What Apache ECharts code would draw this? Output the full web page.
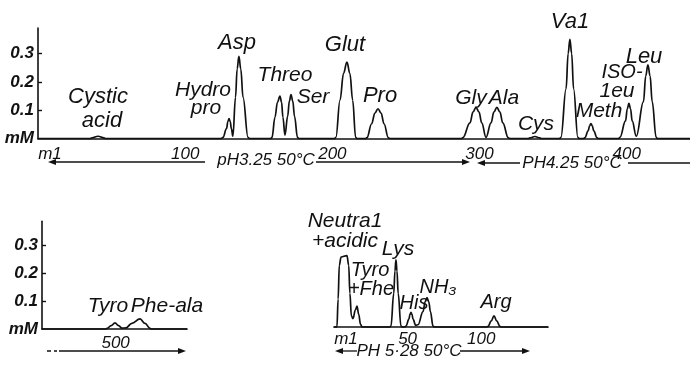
<!DOCTYPE html>
<html><head><meta charset="utf-8">
<script src="https://cdn.jsdelivr.net/npm/echarts@6/dist/echarts.min.js"></script>
<style>html,body{margin:0;padding:0;background:#fff}#c{width:690px;height:367px}</style>
</head><body><div id="c"></div>
<script>
// ---- data: effluent volume (ml) vs concentration (mM) ----
// upper run, pH 3.25 then pH 4.25, 50°C
const topTrace = [
  [0,0],[35,0],[36.7,0.002],[40.8,0.008],[44.8,0.002],[46,0],
  // Hydroxyproline
  [124.5,0],[125.7,0.004],[128.1,0.035],[129.0,0.06],[129.8,0.07],[130.6,0.06],[131.4,0.035],[132.4,0.008],
  // Asp
  [134.2,0.145],[135.3,0.245],[136.5,0.29],[137.8,0.245],[139.3,0.145],[142.7,0.004],[143.7,0],
  // Threo
  [158,0],[159.0,0.004],[161.0,0.075],[162.7,0.128],[164.4,0.15],[165.5,0.128],[166.4,0.075],[167.8,0.012],
  // Ser
  [169.6,0.078],[170.8,0.132],[171.9,0.155],[173.1,0.132],[174.3,0.078],[176.3,0.004],[177.3,0],
  // Glut
  [201.4,0],[202.4,0.004],[205.2,0.135],[207.6,0.23],[209.9,0.27],[211.9,0.23],[213.8,0.135],[215.8,0.004],[216.8,0],
  // Pro
  [222.5,0],[223.5,0.003],[226.7,0.052],[228.9,0.09],[231.0,0.105],[233.1,0.09],[235.1,0.052],[238.0,0.003],[239,0],
  // Gly
  [287.7,0],[288.7,0.003],[293.5,0.055],[295.6,0.094],[297.6,0.11],[299.6,0.094],[301.5,0.055],[304.4,0.004],
  // Ala
  [307.8,0.055],[309.8,0.094],[311.8,0.11],[313.8,0.094],[315.8,0.055],[319.5,0.003],[320.5,0],
  // Cys
  [333,0],[334.2,0.002],[337.6,0.007],[341.0,0.002],[342,0],
  // Val
  [354.3,0],[355.3,0.004],[358.8,0.175],[360.2,0.3],[361.4,0.35],[362.6,0.3],[363.9,0.175],[366.8,0.004],[367.8,0],
  // Meth
  [370.6,0],[371.6,0.003],[373.8,0.027],[374.8,0.045],[375.7,0.053],[376.6,0.045],[377.6,0.027],[379.8,0.003],[380.8,0],
  // Isoleu
  [394.4,0],[395.4,0.004],[399.2,0.062],[400.4,0.105],[401.5,0.124],[402.6,0.105],[403.7,0.062],[406.5,0.008],
  // Leu
  [411.4,0.13],[412.9,0.22],[414.4,0.26],[415.9,0.22],[417.3,0.13],[420.0,0.004],[421,0],
  [443,0]
];
// lower-left continuation (Tyro, Phe-ala)
const lowLeftTrace = [
  [450,0],[493,0],[494.2,0.002],[497,0.012],[499.6,0.022],[502,0.012],[504.3,0.003],
  [507,0.004],[511,0.02],[516.6,0.036],[520,0.02],[523.4,0.002],[524.5,0],[548.5,0]
];
// lower-right run, pH 5.28, 50°C (basic amino acids)
const lowRightTrace = [
  [0,0],[2.0,0],[2.8,0.1],[3.6,0.22],[4.8,0.25],[8.8,0.255],[10.0,0.22],[10.8,0.12],
  [11.8,0.04],[12.9,0.03],[14.5,0.06],[15.6,0.075],[16.8,0.045],[18.0,0.01],[19,0],
  [37.7,0],[38.7,0.003],[40.6,0.12],[41.4,0.2],[42.1,0.24],[42.8,0.2],[43.6,0.12],[45.5,0.003],[46.5,0],
  [47.9,0],[48.9,0.003],[50.9,0.028],[51.6,0.045],[52.3,0.052],[53.0,0.045],[53.7,0.028],[55.5,0.006],
  [57.1,0.008],[60.5,0.055],[61.9,0.09],[63.2,0.105],[64.4,0.09],[65.5,0.055],[67.3,0.003],[68.3,0],
  [103.6,0],[104.6,0.002],[106.9,0.022],[108.7,0.04],[110.5,0.022],[112.8,0.002],[113.8,0],[145.4,0]
];
const yTicks = [0.1, 0.2, 0.3];
const yLabelValues = [0, 0.1, 0.2, 0.3];
const topXTicks = [0, 100, 200, 300, 400];
const lowLeftXTicks = [500];
const lowRightXTicks = [0, 50, 100];

// ---- drawing ----
const ink = '#111';
const FF = '"Liberation Sans","DejaVu Sans",sans-serif';
const chart = echarts.init(document.getElementById('c'));

function T(text, x, y, size, weight) {
  return {type:'text', x:x, y:y, silent:true, style:{
    text:text, fill:ink, font:'italic ' + (weight||'normal') + ' ' + size + 'px ' + FF,
    textAlign:'center', textVerticalAlign:'middle', align:'center', verticalAlign:'middle'}};
}
function L(x1, y1, x2, y2, dash) {
  return {type:'line', silent:true, shape:{x1:x1,y1:y1,x2:x2,y2:y2},
    style:{stroke:ink, lineWidth:1.3, lineDash: dash || null}};
}
function headL(x, y) { return {type:'polygon', silent:true, shape:{points:[[x,y],[x+8,y-3],[x+8,y+3]]}, style:{fill:ink}}; }
function headR(x, y) { return {type:'polygon', silent:true, shape:{points:[[x,y],[x-8,y-3],[x-8,y+3]]}, style:{fill:ink}}; }

function yAxisDef(gi, max, show) {
  return {type:'value', gridIndex:gi, min:0, max:max, show:show,
    splitLine:{show:false},
    axisLine:{show:true, lineStyle:{color:ink, width:1.6}},
    axisTick:{show:true, inside:true, length:4, customValues:yTicks, lineStyle:{color:ink, width:1.4}},
    axisLabel:{show:true, customValues:yLabelValues, margin:4, color:ink,
      fontFamily:FF, fontStyle:'italic', fontWeight:'bold', fontSize:17,
      formatter: v => v === 0 ? 'mM' : v.toFixed(1)}};
}
function xAxisDef(gi, min, max, ticks, margin) {
  return {type:'value', gridIndex:gi, min:min, max:max,
    splitLine:{show:false}, axisTick:{show:false},
    axisLine:{show:true, lineStyle:{color:ink, width:1.7}},
    axisLabel:{show:true, customValues:ticks, margin:margin, color:ink,
      fontFamily:FF, fontStyle:'italic', fontSize:17,
      formatter: v => v === 0 ? '{m|m1}' : String(v),
      rich:{m:{padding:[0,0,0,24], fontFamily:FF, fontStyle:'italic', fontSize:17, color:ink}}}};
}
function lineSeries(xi, data) {
  return {type:'line', xAxisIndex:xi, yAxisIndex:xi, data:data, showSymbol:false,
    smooth:0.4, smoothMonotone:'x', clip:false, animation:false,
    lineStyle:{color:ink, width:1.7}};
}

const option = {
  animation:false,
  backgroundColor:'#fff',
  grid:[
    {left:38, top:28, width:652, height:110.5},
    {left:42, top:221.2, width:145, height:107.8},
    {left:334, top:243, width:214, height:84}
  ],
  xAxis:[
    xAxisDef(0, 0, 443, topXTicks, 7),
    xAxisDef(1, 450, 548.5, lowLeftXTicks, 6),
    xAxisDef(2, 0, 145.4, lowRightXTicks, 4)
  ],
  yAxis:[ yAxisDef(0, 0.39, true), yAxisDef(1, 0.385, true), yAxisDef(2, 0.3, false) ],
  series:[ lineSeries(0, topTrace), lineSeries(1, lowLeftTrace), lineSeries(2, lowRightTrace) ],
  graphic:[
    // upper panel peak names
    T('Cystic', 98, 97, 22), T('acid', 102, 121, 22),
    T('Hydro', 203, 90, 21), T('pro', 206, 108, 21),
    T('Asp', 237, 43, 22), T('Threo', 285, 75, 21), T('Ser', 313, 97, 21),
    T('Glut', 345, 45, 22), T('Pro', 380, 96, 22),
    T('Gly', 471, 98, 21), T('Ala', 504, 98, 21), T('Cys', 536, 124, 21),
    T('Va1', 570, 22, 22), T('Meth', 599, 111, 21),
    T('ISO-', 622, 72, 20), T('1eu', 617, 91, 21), T('Leu', 644, 57, 22),
    // upper panel buffer arrows
    headL(48, 162), L(54, 162, 205, 162), T('pH3.25 50°C', 266, 160, 17), L(316, 162, 464, 162), headR(470, 162),
    headL(477, 163), L(483, 163, 520, 163), T('PH4.25 50°C', 572, 163, 17), L(628, 163, 690, 163),
    // lower-left
    T('Tyro', 108, 306, 21), T('Phe-ala', 167, 306, 21),
    L(47, 351, 57, 351, [4, 3]), L(59, 351, 180, 351), headR(186, 351),
    // lower-right
    T('Neutra1', 345, 221, 21), T('+acidic', 345, 241, 21), T('Lys', 398, 249, 21),
    T('Tyro', 370, 270, 20), T('+Fhe', 371, 289, 20), T('His', 414, 303, 20),
    T('NH₃', 438, 287, 20), T('Arg', 496, 302, 20),
    headL(335, 351), L(341, 351, 357, 351), T('PH 5·28 50°C', 409, 351, 17), L(460, 351, 524, 351), headR(530, 351)
  ]
};
chart.setOption(option);
</script>
</body></html>
